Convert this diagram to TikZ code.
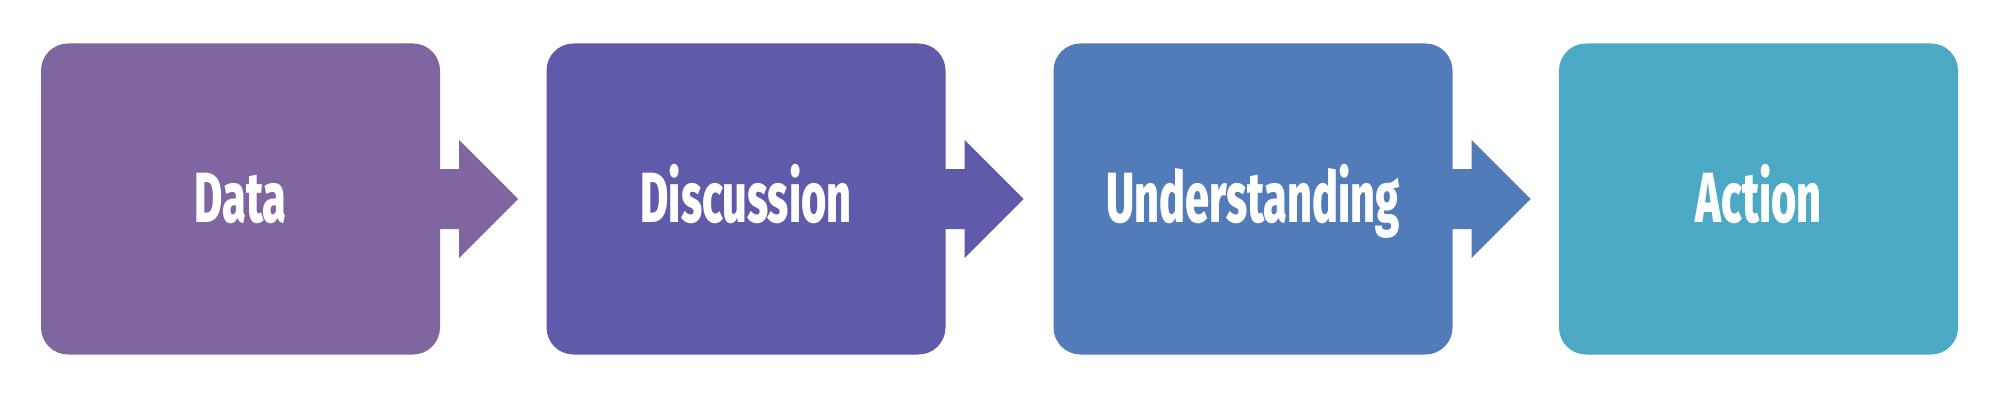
\documentclass[tikz,border=0pt]{standalone}
\usepackage{fontspec}
\newfontfamily\labfont[FakeStretch=0.61]{Fira Sans ExtraBold}
\usetikzlibrary{calc}
\definecolor{cA}{HTML}{7F66A0}
\definecolor{cB}{HTML}{5F5AAA}
\definecolor{cC}{HTML}{527BBA}
\definecolor{cD}{HTML}{4CA9C5}
\tikzset{
  stepbox/.style={rectangle, rounded corners=27pt, minimum width=399pt, minimum height=311pt,
    inner sep=0pt, text=white, font=\labfont\fontsize{71}{71}\selectfont,
    text height=46pt, text depth=0pt},
}
\newcommand{\flowarrow}[2]{%
  \fill[#2] ($(#1.east)+(-2pt,30pt)$) -- ($(#1.east)+(19pt,30pt)$) -- ($(#1.east)+(19pt,59pt)$)
    -- ($(#1.east)+(78pt,0pt)$) -- ($(#1.east)+(19pt,-59pt)$) -- ($(#1.east)+(19pt,-30pt)$)
    -- ($(#1.east)+(-2pt,-30pt)$) -- cycle;}
\begin{document}
\begin{tikzpicture}[x=1pt,y=1pt]
\useasboundingbox[fill=white] (0,0) rectangle (2000,400);
\node[stepbox, fill=cA] (b1) at (240.5,201) {Data};
\node[stepbox, fill=cB] (b2) at (746,201) {Discussion};
\node[stepbox, fill=cC] (b3) at (1253,201) {Understanding};
\node[stepbox, fill=cD] (b4) at (1758.5,201) {Action};
\flowarrow{b1}{cA}
\flowarrow{b2}{cB}
\flowarrow{b3}{cC}
\end{tikzpicture}
\end{document}
